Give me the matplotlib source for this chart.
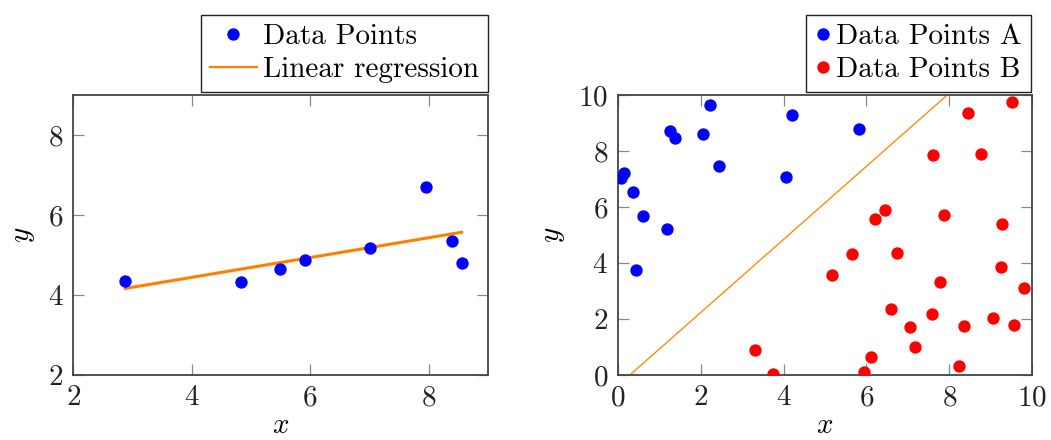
import numpy as np
import matplotlib
matplotlib.use("Agg")
import matplotlib.pyplot as plt

plt.rcParams['font.family'] = ['cmr10', 'DejaVu Serif']
plt.rcParams['mathtext.fontset'] = 'cm'
plt.rcParams['axes.formatter.use_mathtext'] = True
plt.rcParams['font.size'] = 21

# Left panel data
left_x = [2.88, 4.83, 5.49, 5.91, 7.01, 7.95, 8.39, 8.56]
left_y = [4.35, 4.33, 4.66, 4.88, 5.19, 6.70, 5.35, 4.81]

# Right panel data
a_x = [0.08, 0.16, 0.37, 0.61, 0.44, 1.20, 1.27, 1.38, 2.05, 2.23, 2.45, 4.05, 4.21, 5.81]
a_y = [7.03, 7.21, 6.54, 5.70, 3.75, 5.22, 8.73, 8.45, 8.61, 9.66, 7.47, 7.07, 9.30, 8.80]
b_x = [3.32, 3.74, 5.18, 5.66, 5.95, 6.11, 6.21, 6.45, 6.58, 6.73, 7.06, 7.17, 7.57,
       7.61, 7.78, 7.86, 8.23, 8.36, 8.46, 8.76, 9.06, 9.25, 9.27, 9.51, 9.57, 9.80]
b_y = [0.90, 0.05, 3.58, 4.33, 0.13, 0.65, 5.56, 5.90, 2.38, 4.36, 1.71, 1.00, 2.18,
       7.85, 3.32, 5.71, 0.32, 1.77, 9.36, 7.91, 2.05, 3.88, 5.39, 9.76, 1.78, 3.13]
# Separating line (slope, intercept)
sep_slope = 1.305
sep_intercept = -0.373

W, H = 1051, 440
fig = plt.figure(figsize=(W / 100, H / 100), dpi=100)

def fx(p):
    return p / W

def fy(p):
    return 1 - p / H

ax1 = fig.add_axes([fx(73.3), fy(375.3), fx(487.7) - fx(73.3), fy(95) - fy(375.3)])
ax2 = fig.add_axes([fx(617.7), fy(375.3), fx(1032.3) - fx(617.7), fy(95) - fy(375.3)])

blue = '#0000ff'
red = '#ff0000'
orange = '#ff7f00'

# Left
coef = np.polyfit(left_x, left_y, 1)
lx = np.array([min(left_x), max(left_x)])
ax1.plot(lx, np.polyval(coef, lx), color=orange, lw=2.2, zorder=2, label='Linear regression')
ax1.plot(left_x, left_y, 'o', color=blue, ms=7.9, zorder=3, label='Data Points')
ax1.set_xlim(2, 9)
ax1.set_ylim(2, 9)
ax1.set_xticks([2, 4, 6, 8])
ax1.set_yticks([2, 4, 6, 8])
h, l = ax1.get_legend_handles_labels()
leg1 = ax1.legend(h[::-1], l[::-1], loc='lower right',
                  bbox_to_anchor=(fx(487.7), fy(91.7)), bbox_transform=fig.transFigure,
                  borderaxespad=0, fancybox=False, edgecolor='#222222', framealpha=1,
                  handlelength=1.6, handletextpad=0.22, borderpad=0.3, labelspacing=0.22,
                  numpoints=1)
leg1.get_frame().set_linewidth(1.0)
leg1.get_lines()[1].set_linewidth(1.6)

# Right
ax2.plot(a_x, a_y, 'o', color=blue, ms=7.9, zorder=3, label='Data Points A')
ax2.plot(b_x, b_y, 'o', color=red, ms=7.9, zorder=3, label='Data Points B')
sx = np.array([0, 10])
ax2.plot(sx, sep_slope * sx + sep_intercept, color='#ff8a10', lw=1.0, zorder=2)
ax2.set_xlim(0, 10)
ax2.set_ylim(0, 10)
ax2.set_xticks([0, 2, 4, 6, 8, 10])
ax2.set_yticks([0, 2, 4, 6, 8, 10])
leg2 = ax2.legend(loc='lower right',
                  bbox_to_anchor=(fx(1031), fy(91.7)), bbox_transform=fig.transFigure,
                  borderaxespad=0, fancybox=False, edgecolor='#222222', framealpha=1,
                  handlelength=0.6, handletextpad=0.15, borderpad=0.3, labelspacing=0.22,
                  numpoints=1)
leg2.get_frame().set_linewidth(1.0)

for ax in (ax1, ax2):
    for s in ax.spines.values():
        s.set_color('#444444')
        s.set_linewidth(1.3)
    ax.tick_params(direction='in', length=8, width=0.9, color='#888888',
                   top=True, right=True, pad=7, labelcolor='#222222')
    ax.set_xlabel('$x$', labelpad=1)
    ax.set_ylabel('$y$', labelpad=8)

fig.savefig('out.png', dpi=100)
